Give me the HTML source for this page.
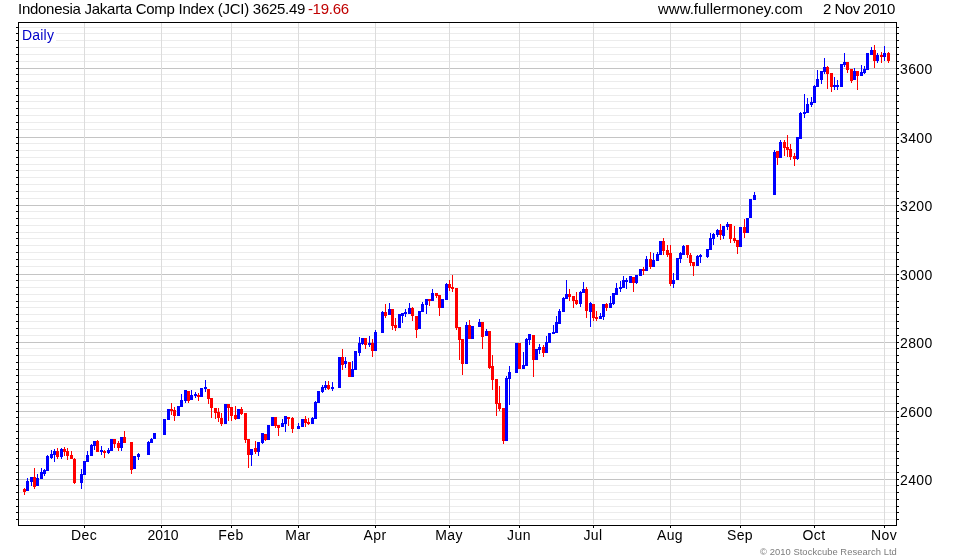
<!DOCTYPE html>
<html lang="en"><head><meta charset="utf-8"><title>Indonesia Jakarta Comp Index (JCI)</title>
<style>
html,body{margin:0;padding:0;background:#fff;}
body{width:980px;height:560px;overflow:hidden;position:relative;font-family:"Liberation Sans",Arial,sans-serif;color:#000;}
svg{position:absolute;left:0;top:0;display:block;}
.t{position:absolute;white-space:nowrap;line-height:1;will-change:transform;}
.f15{font-size:15px;}
.f14{font-size:14px;}
.ml{transform:translateX(-50%);}
</style></head><body>
<svg width="980" height="560" viewBox="0 0 980 560" shape-rendering="crispEdges">
<rect x="0" y="0" width="980" height="560" fill="#ffffff"/>
<rect x="19" y="27" width="877" height="1" fill="#ececec"/>
<rect x="19" y="33" width="877" height="1" fill="#ececec"/>
<rect x="19" y="40" width="877" height="1" fill="#ececec"/>
<rect x="19" y="47" width="877" height="1" fill="#ececec"/>
<rect x="19" y="54" width="877" height="1" fill="#ececec"/>
<rect x="19" y="61" width="877" height="1" fill="#ececec"/>
<rect x="19" y="74" width="877" height="1" fill="#ececec"/>
<rect x="19" y="81" width="877" height="1" fill="#ececec"/>
<rect x="19" y="88" width="877" height="1" fill="#ececec"/>
<rect x="19" y="95" width="877" height="1" fill="#ececec"/>
<rect x="19" y="101" width="877" height="1" fill="#ececec"/>
<rect x="19" y="108" width="877" height="1" fill="#ececec"/>
<rect x="19" y="115" width="877" height="1" fill="#ececec"/>
<rect x="19" y="122" width="877" height="1" fill="#ececec"/>
<rect x="19" y="129" width="877" height="1" fill="#ececec"/>
<rect x="19" y="143" width="877" height="1" fill="#ececec"/>
<rect x="19" y="150" width="877" height="1" fill="#ececec"/>
<rect x="19" y="157" width="877" height="1" fill="#ececec"/>
<rect x="19" y="164" width="877" height="1" fill="#ececec"/>
<rect x="19" y="170" width="877" height="1" fill="#ececec"/>
<rect x="19" y="177" width="877" height="1" fill="#ececec"/>
<rect x="19" y="184" width="877" height="1" fill="#ececec"/>
<rect x="19" y="191" width="877" height="1" fill="#ececec"/>
<rect x="19" y="198" width="877" height="1" fill="#ececec"/>
<rect x="19" y="211" width="877" height="1" fill="#ececec"/>
<rect x="19" y="218" width="877" height="1" fill="#ececec"/>
<rect x="19" y="225" width="877" height="1" fill="#ececec"/>
<rect x="19" y="232" width="877" height="1" fill="#ececec"/>
<rect x="19" y="238" width="877" height="1" fill="#ececec"/>
<rect x="19" y="245" width="877" height="1" fill="#ececec"/>
<rect x="19" y="252" width="877" height="1" fill="#ececec"/>
<rect x="19" y="259" width="877" height="1" fill="#ececec"/>
<rect x="19" y="266" width="877" height="1" fill="#ececec"/>
<rect x="19" y="280" width="877" height="1" fill="#ececec"/>
<rect x="19" y="287" width="877" height="1" fill="#ececec"/>
<rect x="19" y="294" width="877" height="1" fill="#ececec"/>
<rect x="19" y="301" width="877" height="1" fill="#ececec"/>
<rect x="19" y="307" width="877" height="1" fill="#ececec"/>
<rect x="19" y="314" width="877" height="1" fill="#ececec"/>
<rect x="19" y="321" width="877" height="1" fill="#ececec"/>
<rect x="19" y="328" width="877" height="1" fill="#ececec"/>
<rect x="19" y="335" width="877" height="1" fill="#ececec"/>
<rect x="19" y="348" width="877" height="1" fill="#ececec"/>
<rect x="19" y="355" width="877" height="1" fill="#ececec"/>
<rect x="19" y="362" width="877" height="1" fill="#ececec"/>
<rect x="19" y="369" width="877" height="1" fill="#ececec"/>
<rect x="19" y="375" width="877" height="1" fill="#ececec"/>
<rect x="19" y="382" width="877" height="1" fill="#ececec"/>
<rect x="19" y="389" width="877" height="1" fill="#ececec"/>
<rect x="19" y="396" width="877" height="1" fill="#ececec"/>
<rect x="19" y="403" width="877" height="1" fill="#ececec"/>
<rect x="19" y="417" width="877" height="1" fill="#ececec"/>
<rect x="19" y="424" width="877" height="1" fill="#ececec"/>
<rect x="19" y="431" width="877" height="1" fill="#ececec"/>
<rect x="19" y="438" width="877" height="1" fill="#ececec"/>
<rect x="19" y="444" width="877" height="1" fill="#ececec"/>
<rect x="19" y="451" width="877" height="1" fill="#ececec"/>
<rect x="19" y="458" width="877" height="1" fill="#ececec"/>
<rect x="19" y="465" width="877" height="1" fill="#ececec"/>
<rect x="19" y="472" width="877" height="1" fill="#ececec"/>
<rect x="19" y="485" width="877" height="1" fill="#ececec"/>
<rect x="19" y="492" width="877" height="1" fill="#ececec"/>
<rect x="19" y="499" width="877" height="1" fill="#ececec"/>
<rect x="19" y="506" width="877" height="1" fill="#ececec"/>
<rect x="19" y="512" width="877" height="1" fill="#ececec"/>
<rect x="19" y="519" width="877" height="1" fill="#ececec"/>
<rect x="19" y="68" width="877" height="1" fill="#c4c4c4"/>
<rect x="19" y="137" width="877" height="1" fill="#c4c4c4"/>
<rect x="19" y="205" width="877" height="1" fill="#c4c4c4"/>
<rect x="19" y="274" width="877" height="1" fill="#c4c4c4"/>
<rect x="19" y="342" width="877" height="1" fill="#c4c4c4"/>
<rect x="19" y="411" width="877" height="1" fill="#c4c4c4"/>
<rect x="19" y="479" width="877" height="1" fill="#c4c4c4"/>
<rect x="84" y="23" width="1" height="501" fill="#dcdcdc"/>
<rect x="161" y="23" width="1" height="501" fill="#dcdcdc"/>
<rect x="231" y="23" width="1" height="501" fill="#dcdcdc"/>
<rect x="298" y="23" width="1" height="501" fill="#dcdcdc"/>
<rect x="375" y="23" width="1" height="501" fill="#dcdcdc"/>
<rect x="449" y="23" width="1" height="501" fill="#dcdcdc"/>
<rect x="519" y="23" width="1" height="501" fill="#dcdcdc"/>
<rect x="593" y="23" width="1" height="501" fill="#dcdcdc"/>
<rect x="670" y="23" width="1" height="501" fill="#dcdcdc"/>
<rect x="740" y="23" width="1" height="501" fill="#dcdcdc"/>
<rect x="814" y="23" width="1" height="501" fill="#dcdcdc"/>
<rect x="884" y="23" width="1" height="501" fill="#dcdcdc"/>
<rect x="24" y="488" width="1" height="7" fill="#ff0000"/>
<rect x="23" y="489" width="3" height="3" fill="#ff0000"/>
<rect x="27" y="478" width="1" height="13" fill="#0000ff"/>
<rect x="26" y="481" width="3" height="10" fill="#0000ff"/>
<rect x="31" y="477" width="1" height="9" fill="#0000ff"/>
<rect x="30" y="477" width="3" height="5" fill="#0000ff"/>
<rect x="34" y="468" width="1" height="21" fill="#ff0000"/>
<rect x="33" y="477" width="3" height="10" fill="#ff0000"/>
<rect x="37" y="474" width="1" height="12" fill="#0000ff"/>
<rect x="36" y="478" width="3" height="8" fill="#0000ff"/>
<rect x="41" y="468" width="1" height="11" fill="#0000ff"/>
<rect x="40" y="472" width="3" height="7" fill="#0000ff"/>
<rect x="44" y="469" width="1" height="7" fill="#0000ff"/>
<rect x="43" y="470" width="3" height="4" fill="#0000ff"/>
<rect x="47" y="455" width="1" height="16" fill="#0000ff"/>
<rect x="46" y="456" width="3" height="15" fill="#0000ff"/>
<rect x="51" y="450" width="1" height="9" fill="#0000ff"/>
<rect x="50" y="454" width="3" height="4" fill="#0000ff"/>
<rect x="54" y="449" width="1" height="13" fill="#0000ff"/>
<rect x="53" y="451" width="3" height="4" fill="#0000ff"/>
<rect x="57" y="448" width="1" height="11" fill="#ff0000"/>
<rect x="56" y="451" width="3" height="6" fill="#ff0000"/>
<rect x="61" y="448" width="1" height="11" fill="#0000ff"/>
<rect x="60" y="449" width="3" height="8" fill="#0000ff"/>
<rect x="64" y="447" width="1" height="9" fill="#ff0000"/>
<rect x="63" y="449" width="3" height="3" fill="#ff0000"/>
<rect x="67" y="448" width="1" height="12" fill="#ff0000"/>
<rect x="66" y="451" width="3" height="5" fill="#ff0000"/>
<rect x="71" y="451" width="1" height="8" fill="#ff0000"/>
<rect x="70" y="455" width="3" height="4" fill="#ff0000"/>
<rect x="74" y="458" width="1" height="26" fill="#ff0000"/>
<rect x="73" y="459" width="3" height="24" fill="#ff0000"/>
<rect x="81" y="469" width="1" height="20" fill="#0000ff"/>
<rect x="80" y="474" width="3" height="9" fill="#0000ff"/>
<rect x="84" y="461" width="1" height="14" fill="#0000ff"/>
<rect x="83" y="461" width="3" height="14" fill="#0000ff"/>
<rect x="87" y="451" width="1" height="11" fill="#0000ff"/>
<rect x="86" y="455" width="3" height="7" fill="#0000ff"/>
<rect x="91" y="444" width="1" height="12" fill="#0000ff"/>
<rect x="90" y="445" width="3" height="11" fill="#0000ff"/>
<rect x="94" y="441" width="1" height="9" fill="#0000ff"/>
<rect x="93" y="441" width="3" height="5" fill="#0000ff"/>
<rect x="97" y="440" width="1" height="12" fill="#ff0000"/>
<rect x="96" y="441" width="3" height="11" fill="#ff0000"/>
<rect x="101" y="446" width="1" height="9" fill="#0000ff"/>
<rect x="100" y="450" width="3" height="2" fill="#0000ff"/>
<rect x="104" y="450" width="1" height="8" fill="#ff0000"/>
<rect x="103" y="451" width="3" height="2" fill="#ff0000"/>
<rect x="108" y="448" width="1" height="6" fill="#0000ff"/>
<rect x="107" y="450" width="3" height="3" fill="#0000ff"/>
<rect x="111" y="439" width="1" height="12" fill="#0000ff"/>
<rect x="110" y="439" width="3" height="12" fill="#0000ff"/>
<rect x="114" y="439" width="1" height="9" fill="#ff0000"/>
<rect x="113" y="439" width="3" height="5" fill="#ff0000"/>
<rect x="118" y="441" width="1" height="10" fill="#ff0000"/>
<rect x="117" y="443" width="3" height="5" fill="#ff0000"/>
<rect x="121" y="437" width="1" height="14" fill="#0000ff"/>
<rect x="120" y="437" width="3" height="11" fill="#0000ff"/>
<rect x="124" y="431" width="1" height="12" fill="#ff0000"/>
<rect x="123" y="437" width="3" height="6" fill="#ff0000"/>
<rect x="131" y="442" width="1" height="32" fill="#ff0000"/>
<rect x="130" y="442" width="3" height="28" fill="#ff0000"/>
<rect x="134" y="456" width="1" height="13" fill="#0000ff"/>
<rect x="133" y="456" width="3" height="13" fill="#0000ff"/>
<rect x="138" y="453" width="1" height="7" fill="#0000ff"/>
<rect x="137" y="454" width="3" height="3" fill="#0000ff"/>
<rect x="148" y="441" width="1" height="14" fill="#0000ff"/>
<rect x="147" y="442" width="3" height="13" fill="#0000ff"/>
<rect x="151" y="438" width="1" height="5" fill="#0000ff"/>
<rect x="150" y="439" width="3" height="4" fill="#0000ff"/>
<rect x="154" y="433" width="1" height="6" fill="#0000ff"/>
<rect x="153" y="433" width="3" height="6" fill="#0000ff"/>
<rect x="164" y="419" width="1" height="16" fill="#0000ff"/>
<rect x="163" y="419" width="3" height="16" fill="#0000ff"/>
<rect x="168" y="409" width="1" height="11" fill="#0000ff"/>
<rect x="167" y="409" width="3" height="11" fill="#0000ff"/>
<rect x="171" y="403" width="1" height="12" fill="#ff0000"/>
<rect x="170" y="409" width="3" height="2" fill="#ff0000"/>
<rect x="174" y="407" width="1" height="14" fill="#ff0000"/>
<rect x="173" y="410" width="3" height="6" fill="#ff0000"/>
<rect x="178" y="406" width="1" height="10" fill="#0000ff"/>
<rect x="177" y="406" width="3" height="10" fill="#0000ff"/>
<rect x="181" y="394" width="1" height="13" fill="#0000ff"/>
<rect x="180" y="400" width="3" height="7" fill="#0000ff"/>
<rect x="185" y="390" width="1" height="13" fill="#0000ff"/>
<rect x="184" y="390" width="3" height="11" fill="#0000ff"/>
<rect x="188" y="391" width="1" height="12" fill="#ff0000"/>
<rect x="187" y="391" width="3" height="10" fill="#ff0000"/>
<rect x="191" y="390" width="1" height="10" fill="#0000ff"/>
<rect x="190" y="395" width="3" height="5" fill="#0000ff"/>
<rect x="195" y="392" width="1" height="6" fill="#0000ff"/>
<rect x="194" y="394" width="3" height="2" fill="#0000ff"/>
<rect x="198" y="393" width="1" height="8" fill="#ff0000"/>
<rect x="197" y="395" width="3" height="2" fill="#ff0000"/>
<rect x="201" y="388" width="1" height="9" fill="#0000ff"/>
<rect x="200" y="388" width="3" height="9" fill="#0000ff"/>
<rect x="205" y="380" width="1" height="12" fill="#0000ff"/>
<rect x="204" y="387" width="3" height="2" fill="#0000ff"/>
<rect x="208" y="389" width="1" height="15" fill="#ff0000"/>
<rect x="207" y="389" width="3" height="10" fill="#ff0000"/>
<rect x="211" y="398" width="1" height="20" fill="#ff0000"/>
<rect x="210" y="398" width="3" height="10" fill="#ff0000"/>
<rect x="215" y="408" width="1" height="11" fill="#ff0000"/>
<rect x="214" y="408" width="3" height="5" fill="#ff0000"/>
<rect x="218" y="408" width="1" height="14" fill="#ff0000"/>
<rect x="217" y="412" width="3" height="6" fill="#ff0000"/>
<rect x="221" y="413" width="1" height="13" fill="#ff0000"/>
<rect x="220" y="418" width="3" height="6" fill="#ff0000"/>
<rect x="225" y="404" width="1" height="20" fill="#0000ff"/>
<rect x="224" y="404" width="3" height="20" fill="#0000ff"/>
<rect x="228" y="404" width="1" height="17" fill="#ff0000"/>
<rect x="227" y="404" width="3" height="4" fill="#ff0000"/>
<rect x="231" y="407" width="1" height="14" fill="#ff0000"/>
<rect x="230" y="407" width="3" height="9" fill="#ff0000"/>
<rect x="235" y="406" width="1" height="14" fill="#ff0000"/>
<rect x="234" y="415" width="3" height="4" fill="#ff0000"/>
<rect x="238" y="409" width="1" height="10" fill="#0000ff"/>
<rect x="237" y="409" width="3" height="10" fill="#0000ff"/>
<rect x="241" y="407" width="1" height="8" fill="#ff0000"/>
<rect x="240" y="409" width="3" height="5" fill="#ff0000"/>
<rect x="245" y="413" width="1" height="30" fill="#ff0000"/>
<rect x="244" y="413" width="3" height="27" fill="#ff0000"/>
<rect x="248" y="439" width="1" height="29" fill="#ff0000"/>
<rect x="247" y="439" width="3" height="16" fill="#ff0000"/>
<rect x="251" y="449" width="1" height="17" fill="#0000ff"/>
<rect x="250" y="449" width="3" height="6" fill="#0000ff"/>
<rect x="255" y="441" width="1" height="13" fill="#ff0000"/>
<rect x="254" y="448" width="3" height="4" fill="#ff0000"/>
<rect x="258" y="442" width="1" height="14" fill="#0000ff"/>
<rect x="257" y="442" width="3" height="10" fill="#0000ff"/>
<rect x="262" y="433" width="1" height="11" fill="#0000ff"/>
<rect x="261" y="433" width="3" height="10" fill="#0000ff"/>
<rect x="265" y="434" width="1" height="7" fill="#ff0000"/>
<rect x="264" y="434" width="3" height="6" fill="#ff0000"/>
<rect x="268" y="425" width="1" height="15" fill="#0000ff"/>
<rect x="267" y="425" width="3" height="15" fill="#0000ff"/>
<rect x="272" y="417" width="1" height="9" fill="#0000ff"/>
<rect x="271" y="417" width="3" height="9" fill="#0000ff"/>
<rect x="275" y="417" width="1" height="11" fill="#ff0000"/>
<rect x="274" y="417" width="3" height="9" fill="#ff0000"/>
<rect x="278" y="425" width="1" height="11" fill="#ff0000"/>
<rect x="277" y="425" width="3" height="3" fill="#ff0000"/>
<rect x="282" y="419" width="1" height="8" fill="#0000ff"/>
<rect x="281" y="423" width="3" height="4" fill="#0000ff"/>
<rect x="285" y="416" width="1" height="16" fill="#0000ff"/>
<rect x="284" y="416" width="3" height="8" fill="#0000ff"/>
<rect x="288" y="417" width="1" height="9" fill="#ff0000"/>
<rect x="287" y="417" width="3" height="2" fill="#ff0000"/>
<rect x="292" y="417" width="1" height="16" fill="#ff0000"/>
<rect x="291" y="418" width="3" height="11" fill="#ff0000"/>
<rect x="298" y="423" width="1" height="6" fill="#0000ff"/>
<rect x="297" y="426" width="3" height="3" fill="#0000ff"/>
<rect x="302" y="419" width="1" height="8" fill="#0000ff"/>
<rect x="301" y="419" width="3" height="8" fill="#0000ff"/>
<rect x="305" y="416" width="1" height="11" fill="#ff0000"/>
<rect x="304" y="419" width="3" height="4" fill="#ff0000"/>
<rect x="308" y="418" width="1" height="7" fill="#ff0000"/>
<rect x="307" y="422" width="3" height="2" fill="#ff0000"/>
<rect x="312" y="417" width="1" height="7" fill="#0000ff"/>
<rect x="311" y="418" width="3" height="6" fill="#0000ff"/>
<rect x="315" y="401" width="1" height="18" fill="#0000ff"/>
<rect x="314" y="402" width="3" height="17" fill="#0000ff"/>
<rect x="318" y="391" width="1" height="12" fill="#0000ff"/>
<rect x="317" y="391" width="3" height="12" fill="#0000ff"/>
<rect x="322" y="385" width="1" height="8" fill="#0000ff"/>
<rect x="321" y="387" width="3" height="5" fill="#0000ff"/>
<rect x="325" y="381" width="1" height="9" fill="#0000ff"/>
<rect x="324" y="385" width="3" height="3" fill="#0000ff"/>
<rect x="328" y="381" width="1" height="9" fill="#ff0000"/>
<rect x="327" y="385" width="3" height="4" fill="#ff0000"/>
<rect x="332" y="382" width="1" height="9" fill="#0000ff"/>
<rect x="331" y="387" width="3" height="2" fill="#0000ff"/>
<rect x="339" y="357" width="1" height="31" fill="#0000ff"/>
<rect x="338" y="357" width="3" height="31" fill="#0000ff"/>
<rect x="342" y="349" width="1" height="21" fill="#ff0000"/>
<rect x="341" y="357" width="3" height="8" fill="#ff0000"/>
<rect x="345" y="357" width="1" height="11" fill="#0000ff"/>
<rect x="344" y="361" width="3" height="3" fill="#0000ff"/>
<rect x="349" y="362" width="1" height="15" fill="#ff0000"/>
<rect x="348" y="362" width="3" height="15" fill="#ff0000"/>
<rect x="352" y="361" width="1" height="16" fill="#0000ff"/>
<rect x="351" y="369" width="3" height="8" fill="#0000ff"/>
<rect x="355" y="351" width="1" height="19" fill="#0000ff"/>
<rect x="354" y="351" width="3" height="19" fill="#0000ff"/>
<rect x="359" y="337" width="1" height="19" fill="#0000ff"/>
<rect x="358" y="343" width="3" height="10" fill="#0000ff"/>
<rect x="362" y="338" width="1" height="7" fill="#0000ff"/>
<rect x="361" y="338" width="3" height="6" fill="#0000ff"/>
<rect x="365" y="338" width="1" height="11" fill="#ff0000"/>
<rect x="364" y="338" width="3" height="7" fill="#ff0000"/>
<rect x="369" y="336" width="1" height="11" fill="#0000ff"/>
<rect x="368" y="343" width="3" height="2" fill="#0000ff"/>
<rect x="372" y="339" width="1" height="18" fill="#ff0000"/>
<rect x="371" y="343" width="3" height="8" fill="#ff0000"/>
<rect x="375" y="330" width="1" height="21" fill="#0000ff"/>
<rect x="374" y="332" width="3" height="19" fill="#0000ff"/>
<rect x="382" y="311" width="1" height="22" fill="#0000ff"/>
<rect x="381" y="312" width="3" height="21" fill="#0000ff"/>
<rect x="385" y="304" width="1" height="14" fill="#ff0000"/>
<rect x="384" y="312" width="3" height="4" fill="#ff0000"/>
<rect x="389" y="303" width="1" height="12" fill="#0000ff"/>
<rect x="388" y="309" width="3" height="6" fill="#0000ff"/>
<rect x="392" y="309" width="1" height="21" fill="#ff0000"/>
<rect x="391" y="309" width="3" height="17" fill="#ff0000"/>
<rect x="395" y="318" width="1" height="13" fill="#ff0000"/>
<rect x="394" y="325" width="3" height="3" fill="#ff0000"/>
<rect x="399" y="314" width="1" height="14" fill="#0000ff"/>
<rect x="398" y="314" width="3" height="14" fill="#0000ff"/>
<rect x="402" y="313" width="1" height="10" fill="#0000ff"/>
<rect x="401" y="313" width="3" height="3" fill="#0000ff"/>
<rect x="405" y="309" width="1" height="8" fill="#0000ff"/>
<rect x="404" y="312" width="3" height="2" fill="#0000ff"/>
<rect x="409" y="303" width="1" height="11" fill="#0000ff"/>
<rect x="408" y="308" width="3" height="6" fill="#0000ff"/>
<rect x="412" y="307" width="1" height="14" fill="#ff0000"/>
<rect x="411" y="308" width="3" height="8" fill="#ff0000"/>
<rect x="416" y="316" width="1" height="22" fill="#ff0000"/>
<rect x="415" y="316" width="3" height="14" fill="#ff0000"/>
<rect x="419" y="311" width="1" height="18" fill="#0000ff"/>
<rect x="418" y="311" width="3" height="18" fill="#0000ff"/>
<rect x="422" y="302" width="1" height="10" fill="#0000ff"/>
<rect x="421" y="304" width="3" height="8" fill="#0000ff"/>
<rect x="426" y="299" width="1" height="15" fill="#0000ff"/>
<rect x="425" y="299" width="3" height="6" fill="#0000ff"/>
<rect x="429" y="299" width="1" height="7" fill="#ff0000"/>
<rect x="428" y="299" width="3" height="2" fill="#ff0000"/>
<rect x="432" y="289" width="1" height="12" fill="#0000ff"/>
<rect x="431" y="293" width="3" height="8" fill="#0000ff"/>
<rect x="436" y="293" width="1" height="5" fill="#ff0000"/>
<rect x="435" y="293" width="3" height="3" fill="#ff0000"/>
<rect x="439" y="295" width="1" height="21" fill="#ff0000"/>
<rect x="438" y="295" width="3" height="13" fill="#ff0000"/>
<rect x="442" y="299" width="1" height="9" fill="#0000ff"/>
<rect x="441" y="299" width="3" height="9" fill="#0000ff"/>
<rect x="446" y="283" width="1" height="17" fill="#0000ff"/>
<rect x="445" y="284" width="3" height="16" fill="#0000ff"/>
<rect x="449" y="280" width="1" height="11" fill="#ff0000"/>
<rect x="448" y="284" width="3" height="4" fill="#ff0000"/>
<rect x="452" y="275" width="1" height="17" fill="#ff0000"/>
<rect x="451" y="287" width="3" height="2" fill="#ff0000"/>
<rect x="456" y="288" width="1" height="42" fill="#ff0000"/>
<rect x="455" y="288" width="3" height="40" fill="#ff0000"/>
<rect x="459" y="327" width="1" height="33" fill="#ff0000"/>
<rect x="458" y="327" width="3" height="13" fill="#ff0000"/>
<rect x="462" y="339" width="1" height="36" fill="#ff0000"/>
<rect x="461" y="339" width="3" height="25" fill="#ff0000"/>
<rect x="466" y="322" width="1" height="42" fill="#0000ff"/>
<rect x="465" y="325" width="3" height="39" fill="#0000ff"/>
<rect x="469" y="320" width="1" height="19" fill="#ff0000"/>
<rect x="468" y="325" width="3" height="14" fill="#ff0000"/>
<rect x="472" y="326" width="1" height="13" fill="#0000ff"/>
<rect x="471" y="326" width="3" height="13" fill="#0000ff"/>
<rect x="479" y="319" width="1" height="8" fill="#0000ff"/>
<rect x="478" y="322" width="3" height="5" fill="#0000ff"/>
<rect x="482" y="322" width="1" height="27" fill="#ff0000"/>
<rect x="481" y="322" width="3" height="15" fill="#ff0000"/>
<rect x="486" y="329" width="1" height="7" fill="#0000ff"/>
<rect x="485" y="331" width="3" height="5" fill="#0000ff"/>
<rect x="489" y="331" width="1" height="38" fill="#ff0000"/>
<rect x="488" y="331" width="3" height="37" fill="#ff0000"/>
<rect x="492" y="355" width="1" height="35" fill="#ff0000"/>
<rect x="491" y="366" width="3" height="14" fill="#ff0000"/>
<rect x="496" y="379" width="1" height="37" fill="#ff0000"/>
<rect x="495" y="379" width="3" height="25" fill="#ff0000"/>
<rect x="499" y="386" width="1" height="25" fill="#ff0000"/>
<rect x="498" y="403" width="3" height="6" fill="#ff0000"/>
<rect x="503" y="408" width="1" height="36" fill="#ff0000"/>
<rect x="502" y="408" width="3" height="33" fill="#ff0000"/>
<rect x="506" y="376" width="1" height="65" fill="#0000ff"/>
<rect x="505" y="378" width="3" height="63" fill="#0000ff"/>
<rect x="509" y="366" width="1" height="39" fill="#0000ff"/>
<rect x="508" y="372" width="3" height="7" fill="#0000ff"/>
<rect x="516" y="343" width="1" height="30" fill="#0000ff"/>
<rect x="515" y="343" width="3" height="30" fill="#0000ff"/>
<rect x="519" y="343" width="1" height="26" fill="#ff0000"/>
<rect x="518" y="343" width="3" height="26" fill="#ff0000"/>
<rect x="523" y="352" width="1" height="17" fill="#0000ff"/>
<rect x="522" y="365" width="3" height="4" fill="#0000ff"/>
<rect x="526" y="338" width="1" height="28" fill="#0000ff"/>
<rect x="525" y="339" width="3" height="27" fill="#0000ff"/>
<rect x="529" y="334" width="1" height="11" fill="#0000ff"/>
<rect x="528" y="334" width="3" height="6" fill="#0000ff"/>
<rect x="533" y="335" width="1" height="42" fill="#ff0000"/>
<rect x="532" y="335" width="3" height="25" fill="#ff0000"/>
<rect x="536" y="349" width="1" height="11" fill="#0000ff"/>
<rect x="535" y="349" width="3" height="11" fill="#0000ff"/>
<rect x="539" y="344" width="1" height="10" fill="#0000ff"/>
<rect x="538" y="347" width="3" height="3" fill="#0000ff"/>
<rect x="543" y="345" width="1" height="12" fill="#ff0000"/>
<rect x="542" y="347" width="3" height="6" fill="#ff0000"/>
<rect x="546" y="336" width="1" height="17" fill="#0000ff"/>
<rect x="545" y="342" width="3" height="11" fill="#0000ff"/>
<rect x="549" y="333" width="1" height="10" fill="#0000ff"/>
<rect x="548" y="333" width="3" height="10" fill="#0000ff"/>
<rect x="553" y="325" width="1" height="9" fill="#0000ff"/>
<rect x="552" y="332" width="3" height="2" fill="#0000ff"/>
<rect x="556" y="316" width="1" height="17" fill="#0000ff"/>
<rect x="555" y="322" width="3" height="11" fill="#0000ff"/>
<rect x="559" y="309" width="1" height="15" fill="#0000ff"/>
<rect x="558" y="311" width="3" height="13" fill="#0000ff"/>
<rect x="563" y="297" width="1" height="15" fill="#0000ff"/>
<rect x="562" y="298" width="3" height="14" fill="#0000ff"/>
<rect x="566" y="280" width="1" height="19" fill="#0000ff"/>
<rect x="565" y="294" width="3" height="5" fill="#0000ff"/>
<rect x="569" y="289" width="1" height="12" fill="#ff0000"/>
<rect x="568" y="294" width="3" height="3" fill="#ff0000"/>
<rect x="573" y="296" width="1" height="12" fill="#ff0000"/>
<rect x="572" y="296" width="3" height="5" fill="#ff0000"/>
<rect x="576" y="292" width="1" height="13" fill="#ff0000"/>
<rect x="575" y="300" width="3" height="4" fill="#ff0000"/>
<rect x="580" y="291" width="1" height="16" fill="#0000ff"/>
<rect x="579" y="292" width="3" height="12" fill="#0000ff"/>
<rect x="583" y="282" width="1" height="11" fill="#0000ff"/>
<rect x="582" y="289" width="3" height="4" fill="#0000ff"/>
<rect x="586" y="287" width="1" height="31" fill="#ff0000"/>
<rect x="585" y="289" width="3" height="22" fill="#ff0000"/>
<rect x="590" y="302" width="1" height="25" fill="#0000ff"/>
<rect x="589" y="303" width="3" height="9" fill="#0000ff"/>
<rect x="593" y="304" width="1" height="17" fill="#ff0000"/>
<rect x="592" y="304" width="3" height="14" fill="#ff0000"/>
<rect x="596" y="311" width="1" height="10" fill="#ff0000"/>
<rect x="595" y="317" width="3" height="2" fill="#ff0000"/>
<rect x="600" y="313" width="1" height="6" fill="#0000ff"/>
<rect x="599" y="316" width="3" height="3" fill="#0000ff"/>
<rect x="603" y="304" width="1" height="16" fill="#0000ff"/>
<rect x="602" y="304" width="3" height="13" fill="#0000ff"/>
<rect x="606" y="303" width="1" height="8" fill="#ff0000"/>
<rect x="605" y="304" width="3" height="4" fill="#ff0000"/>
<rect x="610" y="296" width="1" height="12" fill="#0000ff"/>
<rect x="609" y="303" width="3" height="5" fill="#0000ff"/>
<rect x="613" y="293" width="1" height="12" fill="#0000ff"/>
<rect x="612" y="293" width="3" height="11" fill="#0000ff"/>
<rect x="616" y="283" width="1" height="12" fill="#0000ff"/>
<rect x="615" y="288" width="3" height="7" fill="#0000ff"/>
<rect x="620" y="281" width="1" height="11" fill="#0000ff"/>
<rect x="619" y="287" width="3" height="2" fill="#0000ff"/>
<rect x="623" y="276" width="1" height="12" fill="#0000ff"/>
<rect x="622" y="280" width="3" height="8" fill="#0000ff"/>
<rect x="626" y="278" width="1" height="11" fill="#0000ff"/>
<rect x="625" y="280" width="3" height="2" fill="#0000ff"/>
<rect x="630" y="276" width="1" height="7" fill="#0000ff"/>
<rect x="629" y="276" width="3" height="7" fill="#0000ff"/>
<rect x="633" y="277" width="1" height="15" fill="#ff0000"/>
<rect x="632" y="277" width="3" height="6" fill="#ff0000"/>
<rect x="636" y="275" width="1" height="9" fill="#0000ff"/>
<rect x="635" y="275" width="3" height="8" fill="#0000ff"/>
<rect x="640" y="269" width="1" height="7" fill="#0000ff"/>
<rect x="639" y="269" width="3" height="7" fill="#0000ff"/>
<rect x="643" y="267" width="1" height="8" fill="#ff0000"/>
<rect x="642" y="269" width="3" height="2" fill="#ff0000"/>
<rect x="646" y="256" width="1" height="15" fill="#0000ff"/>
<rect x="645" y="259" width="3" height="12" fill="#0000ff"/>
<rect x="650" y="252" width="1" height="17" fill="#ff0000"/>
<rect x="649" y="259" width="3" height="8" fill="#ff0000"/>
<rect x="653" y="253" width="1" height="14" fill="#0000ff"/>
<rect x="652" y="260" width="3" height="7" fill="#0000ff"/>
<rect x="657" y="252" width="1" height="9" fill="#0000ff"/>
<rect x="656" y="254" width="3" height="7" fill="#0000ff"/>
<rect x="660" y="241" width="1" height="14" fill="#0000ff"/>
<rect x="659" y="241" width="3" height="14" fill="#0000ff"/>
<rect x="663" y="238" width="1" height="17" fill="#ff0000"/>
<rect x="662" y="241" width="3" height="10" fill="#ff0000"/>
<rect x="667" y="245" width="1" height="12" fill="#ff0000"/>
<rect x="666" y="250" width="3" height="5" fill="#ff0000"/>
<rect x="670" y="245" width="1" height="41" fill="#ff0000"/>
<rect x="669" y="253" width="3" height="31" fill="#ff0000"/>
<rect x="673" y="273" width="1" height="15" fill="#0000ff"/>
<rect x="672" y="280" width="3" height="4" fill="#0000ff"/>
<rect x="677" y="258" width="1" height="22" fill="#0000ff"/>
<rect x="676" y="258" width="3" height="22" fill="#0000ff"/>
<rect x="680" y="252" width="1" height="11" fill="#0000ff"/>
<rect x="679" y="253" width="3" height="6" fill="#0000ff"/>
<rect x="683" y="245" width="1" height="10" fill="#0000ff"/>
<rect x="682" y="246" width="3" height="9" fill="#0000ff"/>
<rect x="687" y="245" width="1" height="13" fill="#ff0000"/>
<rect x="686" y="245" width="3" height="10" fill="#ff0000"/>
<rect x="690" y="253" width="1" height="13" fill="#ff0000"/>
<rect x="689" y="255" width="3" height="8" fill="#ff0000"/>
<rect x="693" y="262" width="1" height="14" fill="#ff0000"/>
<rect x="692" y="262" width="3" height="4" fill="#ff0000"/>
<rect x="697" y="255" width="1" height="11" fill="#0000ff"/>
<rect x="696" y="256" width="3" height="10" fill="#0000ff"/>
<rect x="700" y="254" width="1" height="9" fill="#0000ff"/>
<rect x="699" y="255" width="3" height="2" fill="#0000ff"/>
<rect x="707" y="249" width="1" height="9" fill="#0000ff"/>
<rect x="706" y="249" width="3" height="8" fill="#0000ff"/>
<rect x="710" y="233" width="1" height="17" fill="#0000ff"/>
<rect x="709" y="238" width="3" height="12" fill="#0000ff"/>
<rect x="713" y="233" width="1" height="12" fill="#0000ff"/>
<rect x="712" y="234" width="3" height="5" fill="#0000ff"/>
<rect x="717" y="229" width="1" height="8" fill="#0000ff"/>
<rect x="716" y="230" width="3" height="5" fill="#0000ff"/>
<rect x="720" y="224" width="1" height="16" fill="#ff0000"/>
<rect x="719" y="230" width="3" height="5" fill="#ff0000"/>
<rect x="723" y="226" width="1" height="13" fill="#0000ff"/>
<rect x="722" y="226" width="3" height="10" fill="#0000ff"/>
<rect x="727" y="222" width="1" height="8" fill="#0000ff"/>
<rect x="726" y="224" width="3" height="3" fill="#0000ff"/>
<rect x="730" y="224" width="1" height="19" fill="#ff0000"/>
<rect x="729" y="224" width="3" height="15" fill="#ff0000"/>
<rect x="734" y="226" width="1" height="17" fill="#ff0000"/>
<rect x="733" y="238" width="3" height="3" fill="#ff0000"/>
<rect x="737" y="240" width="1" height="14" fill="#ff0000"/>
<rect x="736" y="240" width="3" height="7" fill="#ff0000"/>
<rect x="740" y="227" width="1" height="20" fill="#0000ff"/>
<rect x="739" y="227" width="3" height="20" fill="#0000ff"/>
<rect x="744" y="219" width="1" height="19" fill="#ff0000"/>
<rect x="743" y="227" width="3" height="6" fill="#ff0000"/>
<rect x="747" y="218" width="1" height="15" fill="#0000ff"/>
<rect x="746" y="218" width="3" height="15" fill="#0000ff"/>
<rect x="750" y="199" width="1" height="19" fill="#0000ff"/>
<rect x="749" y="199" width="3" height="19" fill="#0000ff"/>
<rect x="754" y="192" width="1" height="8" fill="#0000ff"/>
<rect x="753" y="195" width="3" height="5" fill="#0000ff"/>
<rect x="774" y="150" width="1" height="45" fill="#0000ff"/>
<rect x="773" y="152" width="3" height="43" fill="#0000ff"/>
<rect x="777" y="151" width="1" height="14" fill="#ff0000"/>
<rect x="776" y="151" width="3" height="7" fill="#ff0000"/>
<rect x="780" y="140" width="1" height="18" fill="#0000ff"/>
<rect x="779" y="142" width="3" height="16" fill="#0000ff"/>
<rect x="784" y="140" width="1" height="16" fill="#ff0000"/>
<rect x="783" y="142" width="3" height="6" fill="#ff0000"/>
<rect x="787" y="135" width="1" height="22" fill="#ff0000"/>
<rect x="786" y="147" width="3" height="3" fill="#ff0000"/>
<rect x="790" y="144" width="1" height="16" fill="#ff0000"/>
<rect x="789" y="149" width="3" height="8" fill="#ff0000"/>
<rect x="794" y="153" width="1" height="13" fill="#ff0000"/>
<rect x="793" y="156" width="3" height="3" fill="#ff0000"/>
<rect x="797" y="137" width="1" height="23" fill="#0000ff"/>
<rect x="796" y="137" width="3" height="22" fill="#0000ff"/>
<rect x="800" y="112" width="1" height="27" fill="#0000ff"/>
<rect x="799" y="113" width="3" height="26" fill="#0000ff"/>
<rect x="804" y="94" width="1" height="24" fill="#0000ff"/>
<rect x="803" y="112" width="3" height="2" fill="#0000ff"/>
<rect x="807" y="98" width="1" height="15" fill="#0000ff"/>
<rect x="806" y="104" width="3" height="9" fill="#0000ff"/>
<rect x="811" y="97" width="1" height="10" fill="#0000ff"/>
<rect x="810" y="102" width="3" height="3" fill="#0000ff"/>
<rect x="814" y="85" width="1" height="18" fill="#0000ff"/>
<rect x="813" y="86" width="3" height="17" fill="#0000ff"/>
<rect x="817" y="70" width="1" height="17" fill="#0000ff"/>
<rect x="816" y="79" width="3" height="8" fill="#0000ff"/>
<rect x="821" y="71" width="1" height="13" fill="#0000ff"/>
<rect x="820" y="71" width="3" height="9" fill="#0000ff"/>
<rect x="824" y="58" width="1" height="16" fill="#0000ff"/>
<rect x="823" y="67" width="3" height="5" fill="#0000ff"/>
<rect x="827" y="66" width="1" height="23" fill="#ff0000"/>
<rect x="826" y="67" width="3" height="7" fill="#ff0000"/>
<rect x="831" y="73" width="1" height="19" fill="#ff0000"/>
<rect x="830" y="73" width="3" height="14" fill="#ff0000"/>
<rect x="834" y="77" width="1" height="13" fill="#0000ff"/>
<rect x="833" y="85" width="3" height="2" fill="#0000ff"/>
<rect x="837" y="80" width="1" height="10" fill="#0000ff"/>
<rect x="836" y="85" width="3" height="2" fill="#0000ff"/>
<rect x="841" y="64" width="1" height="23" fill="#0000ff"/>
<rect x="840" y="64" width="3" height="23" fill="#0000ff"/>
<rect x="844" y="53" width="1" height="14" fill="#0000ff"/>
<rect x="843" y="62" width="3" height="3" fill="#0000ff"/>
<rect x="847" y="62" width="1" height="11" fill="#ff0000"/>
<rect x="846" y="62" width="3" height="8" fill="#ff0000"/>
<rect x="851" y="69" width="1" height="14" fill="#ff0000"/>
<rect x="850" y="69" width="3" height="12" fill="#ff0000"/>
<rect x="854" y="68" width="1" height="12" fill="#0000ff"/>
<rect x="853" y="71" width="3" height="9" fill="#0000ff"/>
<rect x="857" y="71" width="1" height="19" fill="#ff0000"/>
<rect x="856" y="71" width="3" height="5" fill="#ff0000"/>
<rect x="861" y="65" width="1" height="11" fill="#0000ff"/>
<rect x="860" y="72" width="3" height="4" fill="#0000ff"/>
<rect x="864" y="66" width="1" height="8" fill="#0000ff"/>
<rect x="863" y="69" width="3" height="4" fill="#0000ff"/>
<rect x="867" y="53" width="1" height="17" fill="#0000ff"/>
<rect x="866" y="53" width="3" height="17" fill="#0000ff"/>
<rect x="871" y="47" width="1" height="8" fill="#0000ff"/>
<rect x="870" y="50" width="3" height="5" fill="#0000ff"/>
<rect x="874" y="45" width="1" height="23" fill="#ff0000"/>
<rect x="873" y="50" width="3" height="11" fill="#ff0000"/>
<rect x="877" y="53" width="1" height="10" fill="#0000ff"/>
<rect x="876" y="55" width="3" height="6" fill="#0000ff"/>
<rect x="881" y="52" width="1" height="11" fill="#ff0000"/>
<rect x="880" y="55" width="3" height="2" fill="#ff0000"/>
<rect x="884" y="46" width="1" height="15" fill="#0000ff"/>
<rect x="883" y="53" width="3" height="4" fill="#0000ff"/>
<rect x="888" y="52" width="1" height="11" fill="#ff0000"/>
<rect x="887" y="53" width="3" height="8" fill="#ff0000"/>
<rect x="18" y="22" width="879" height="1" fill="#000"/>
<rect x="18" y="525" width="879" height="1" fill="#000"/>
<rect x="18" y="22" width="1" height="504" fill="#000"/>
<rect x="896" y="22" width="1" height="504" fill="#000"/>
<rect x="16" y="27" width="2" height="1" fill="#000"/>
<rect x="897" y="27" width="2" height="1" fill="#000"/>
<rect x="16" y="33" width="2" height="1" fill="#000"/>
<rect x="897" y="33" width="2" height="1" fill="#000"/>
<rect x="16" y="40" width="2" height="1" fill="#000"/>
<rect x="897" y="40" width="2" height="1" fill="#000"/>
<rect x="16" y="47" width="2" height="1" fill="#000"/>
<rect x="897" y="47" width="2" height="1" fill="#000"/>
<rect x="16" y="54" width="2" height="1" fill="#000"/>
<rect x="897" y="54" width="2" height="1" fill="#000"/>
<rect x="16" y="61" width="2" height="1" fill="#000"/>
<rect x="897" y="61" width="2" height="1" fill="#000"/>
<rect x="16" y="74" width="2" height="1" fill="#000"/>
<rect x="897" y="74" width="2" height="1" fill="#000"/>
<rect x="16" y="81" width="2" height="1" fill="#000"/>
<rect x="897" y="81" width="2" height="1" fill="#000"/>
<rect x="16" y="88" width="2" height="1" fill="#000"/>
<rect x="897" y="88" width="2" height="1" fill="#000"/>
<rect x="16" y="95" width="2" height="1" fill="#000"/>
<rect x="897" y="95" width="2" height="1" fill="#000"/>
<rect x="16" y="101" width="2" height="1" fill="#000"/>
<rect x="897" y="101" width="2" height="1" fill="#000"/>
<rect x="16" y="108" width="2" height="1" fill="#000"/>
<rect x="897" y="108" width="2" height="1" fill="#000"/>
<rect x="16" y="115" width="2" height="1" fill="#000"/>
<rect x="897" y="115" width="2" height="1" fill="#000"/>
<rect x="16" y="122" width="2" height="1" fill="#000"/>
<rect x="897" y="122" width="2" height="1" fill="#000"/>
<rect x="16" y="129" width="2" height="1" fill="#000"/>
<rect x="897" y="129" width="2" height="1" fill="#000"/>
<rect x="16" y="143" width="2" height="1" fill="#000"/>
<rect x="897" y="143" width="2" height="1" fill="#000"/>
<rect x="16" y="150" width="2" height="1" fill="#000"/>
<rect x="897" y="150" width="2" height="1" fill="#000"/>
<rect x="16" y="157" width="2" height="1" fill="#000"/>
<rect x="897" y="157" width="2" height="1" fill="#000"/>
<rect x="16" y="164" width="2" height="1" fill="#000"/>
<rect x="897" y="164" width="2" height="1" fill="#000"/>
<rect x="16" y="170" width="2" height="1" fill="#000"/>
<rect x="897" y="170" width="2" height="1" fill="#000"/>
<rect x="16" y="177" width="2" height="1" fill="#000"/>
<rect x="897" y="177" width="2" height="1" fill="#000"/>
<rect x="16" y="184" width="2" height="1" fill="#000"/>
<rect x="897" y="184" width="2" height="1" fill="#000"/>
<rect x="16" y="191" width="2" height="1" fill="#000"/>
<rect x="897" y="191" width="2" height="1" fill="#000"/>
<rect x="16" y="198" width="2" height="1" fill="#000"/>
<rect x="897" y="198" width="2" height="1" fill="#000"/>
<rect x="16" y="211" width="2" height="1" fill="#000"/>
<rect x="897" y="211" width="2" height="1" fill="#000"/>
<rect x="16" y="218" width="2" height="1" fill="#000"/>
<rect x="897" y="218" width="2" height="1" fill="#000"/>
<rect x="16" y="225" width="2" height="1" fill="#000"/>
<rect x="897" y="225" width="2" height="1" fill="#000"/>
<rect x="16" y="232" width="2" height="1" fill="#000"/>
<rect x="897" y="232" width="2" height="1" fill="#000"/>
<rect x="16" y="238" width="2" height="1" fill="#000"/>
<rect x="897" y="238" width="2" height="1" fill="#000"/>
<rect x="16" y="245" width="2" height="1" fill="#000"/>
<rect x="897" y="245" width="2" height="1" fill="#000"/>
<rect x="16" y="252" width="2" height="1" fill="#000"/>
<rect x="897" y="252" width="2" height="1" fill="#000"/>
<rect x="16" y="259" width="2" height="1" fill="#000"/>
<rect x="897" y="259" width="2" height="1" fill="#000"/>
<rect x="16" y="266" width="2" height="1" fill="#000"/>
<rect x="897" y="266" width="2" height="1" fill="#000"/>
<rect x="16" y="280" width="2" height="1" fill="#000"/>
<rect x="897" y="280" width="2" height="1" fill="#000"/>
<rect x="16" y="287" width="2" height="1" fill="#000"/>
<rect x="897" y="287" width="2" height="1" fill="#000"/>
<rect x="16" y="294" width="2" height="1" fill="#000"/>
<rect x="897" y="294" width="2" height="1" fill="#000"/>
<rect x="16" y="301" width="2" height="1" fill="#000"/>
<rect x="897" y="301" width="2" height="1" fill="#000"/>
<rect x="16" y="307" width="2" height="1" fill="#000"/>
<rect x="897" y="307" width="2" height="1" fill="#000"/>
<rect x="16" y="314" width="2" height="1" fill="#000"/>
<rect x="897" y="314" width="2" height="1" fill="#000"/>
<rect x="16" y="321" width="2" height="1" fill="#000"/>
<rect x="897" y="321" width="2" height="1" fill="#000"/>
<rect x="16" y="328" width="2" height="1" fill="#000"/>
<rect x="897" y="328" width="2" height="1" fill="#000"/>
<rect x="16" y="335" width="2" height="1" fill="#000"/>
<rect x="897" y="335" width="2" height="1" fill="#000"/>
<rect x="16" y="348" width="2" height="1" fill="#000"/>
<rect x="897" y="348" width="2" height="1" fill="#000"/>
<rect x="16" y="355" width="2" height="1" fill="#000"/>
<rect x="897" y="355" width="2" height="1" fill="#000"/>
<rect x="16" y="362" width="2" height="1" fill="#000"/>
<rect x="897" y="362" width="2" height="1" fill="#000"/>
<rect x="16" y="369" width="2" height="1" fill="#000"/>
<rect x="897" y="369" width="2" height="1" fill="#000"/>
<rect x="16" y="375" width="2" height="1" fill="#000"/>
<rect x="897" y="375" width="2" height="1" fill="#000"/>
<rect x="16" y="382" width="2" height="1" fill="#000"/>
<rect x="897" y="382" width="2" height="1" fill="#000"/>
<rect x="16" y="389" width="2" height="1" fill="#000"/>
<rect x="897" y="389" width="2" height="1" fill="#000"/>
<rect x="16" y="396" width="2" height="1" fill="#000"/>
<rect x="897" y="396" width="2" height="1" fill="#000"/>
<rect x="16" y="403" width="2" height="1" fill="#000"/>
<rect x="897" y="403" width="2" height="1" fill="#000"/>
<rect x="16" y="417" width="2" height="1" fill="#000"/>
<rect x="897" y="417" width="2" height="1" fill="#000"/>
<rect x="16" y="424" width="2" height="1" fill="#000"/>
<rect x="897" y="424" width="2" height="1" fill="#000"/>
<rect x="16" y="431" width="2" height="1" fill="#000"/>
<rect x="897" y="431" width="2" height="1" fill="#000"/>
<rect x="16" y="438" width="2" height="1" fill="#000"/>
<rect x="897" y="438" width="2" height="1" fill="#000"/>
<rect x="16" y="444" width="2" height="1" fill="#000"/>
<rect x="897" y="444" width="2" height="1" fill="#000"/>
<rect x="16" y="451" width="2" height="1" fill="#000"/>
<rect x="897" y="451" width="2" height="1" fill="#000"/>
<rect x="16" y="458" width="2" height="1" fill="#000"/>
<rect x="897" y="458" width="2" height="1" fill="#000"/>
<rect x="16" y="465" width="2" height="1" fill="#000"/>
<rect x="897" y="465" width="2" height="1" fill="#000"/>
<rect x="16" y="472" width="2" height="1" fill="#000"/>
<rect x="897" y="472" width="2" height="1" fill="#000"/>
<rect x="16" y="485" width="2" height="1" fill="#000"/>
<rect x="897" y="485" width="2" height="1" fill="#000"/>
<rect x="16" y="492" width="2" height="1" fill="#000"/>
<rect x="897" y="492" width="2" height="1" fill="#000"/>
<rect x="16" y="499" width="2" height="1" fill="#000"/>
<rect x="897" y="499" width="2" height="1" fill="#000"/>
<rect x="16" y="506" width="2" height="1" fill="#000"/>
<rect x="897" y="506" width="2" height="1" fill="#000"/>
<rect x="16" y="512" width="2" height="1" fill="#000"/>
<rect x="897" y="512" width="2" height="1" fill="#000"/>
<rect x="16" y="519" width="2" height="1" fill="#000"/>
<rect x="897" y="519" width="2" height="1" fill="#000"/>
<rect x="16" y="68" width="2" height="1" fill="#000"/>
<rect x="897" y="68" width="2" height="1" fill="#000"/>
<rect x="16" y="137" width="2" height="1" fill="#000"/>
<rect x="897" y="137" width="2" height="1" fill="#000"/>
<rect x="16" y="205" width="2" height="1" fill="#000"/>
<rect x="897" y="205" width="2" height="1" fill="#000"/>
<rect x="16" y="274" width="2" height="1" fill="#000"/>
<rect x="897" y="274" width="2" height="1" fill="#000"/>
<rect x="16" y="342" width="2" height="1" fill="#000"/>
<rect x="897" y="342" width="2" height="1" fill="#000"/>
<rect x="16" y="411" width="2" height="1" fill="#000"/>
<rect x="897" y="411" width="2" height="1" fill="#000"/>
<rect x="16" y="479" width="2" height="1" fill="#000"/>
<rect x="897" y="479" width="2" height="1" fill="#000"/>
<rect x="84" y="526" width="1" height="2" fill="#000"/>
<rect x="161" y="526" width="1" height="2" fill="#000"/>
<rect x="231" y="526" width="1" height="2" fill="#000"/>
<rect x="298" y="526" width="1" height="2" fill="#000"/>
<rect x="375" y="526" width="1" height="2" fill="#000"/>
<rect x="449" y="526" width="1" height="2" fill="#000"/>
<rect x="519" y="526" width="1" height="2" fill="#000"/>
<rect x="593" y="526" width="1" height="2" fill="#000"/>
<rect x="670" y="526" width="1" height="2" fill="#000"/>
<rect x="740" y="526" width="1" height="2" fill="#000"/>
<rect x="814" y="526" width="1" height="2" fill="#000"/>
<rect x="884" y="526" width="1" height="2" fill="#000"/>
</svg>
<div class="t" id="bgd" style="left:19px;top:28px;width:37px;height:18px;background:#fff;"></div>
<div class="t f15" id="t1" style="left:18px;top:0.5px;letter-spacing:-0.27px;">Indonesia Jakarta Comp Index (JCI) 3625.49 <span style="color:#c00000;margin-left:-1.2px">-19.66</span></div>
<div class="t f15" id="t2" style="left:657.5px;top:0.5px;letter-spacing:0.0px;">www.fullermoney.com</div>
<div class="t f15" id="t3" style="right:85px;top:0.5px;letter-spacing:-0.5px;">2 Nov 2010</div>
<div class="t f14" id="t4" style="left:22px;top:28px;color:#0000c8;letter-spacing:0.2px;">Daily</div>
<div class="t f14 yl" style="left:900.2px;top:62px;letter-spacing:0.4px;">3600</div>
<div class="t f14 yl" style="left:900.2px;top:131px;letter-spacing:0.4px;">3400</div>
<div class="t f14 yl" style="left:900.2px;top:199px;letter-spacing:0.4px;">3200</div>
<div class="t f14 yl" style="left:900.2px;top:268px;letter-spacing:0.4px;">3000</div>
<div class="t f14 yl" style="left:900.2px;top:336px;letter-spacing:0.4px;">2800</div>
<div class="t f14 yl" style="left:900.2px;top:405px;letter-spacing:0.4px;">2600</div>
<div class="t f14 yl" style="left:900.2px;top:473px;letter-spacing:0.4px;">2400</div>
<div class="t f14 ml" style="left:84.3px;top:528px;letter-spacing:0.4px;">Dec</div>
<div class="t f14 ml" style="left:162.7px;top:528px;letter-spacing:0.0px;">2010</div>
<div class="t f14 ml" style="left:231.3px;top:528px;letter-spacing:0.4px;">Feb</div>
<div class="t f14 ml" style="left:298.3px;top:528px;letter-spacing:0.4px;">Mar</div>
<div class="t f14 ml" style="left:375.3px;top:528px;letter-spacing:0.4px;">Apr</div>
<div class="t f14 ml" style="left:449.3px;top:528px;letter-spacing:0.4px;">May</div>
<div class="t f14 ml" style="left:519.3px;top:528px;letter-spacing:0.4px;">Jun</div>
<div class="t f14 ml" style="left:593.3px;top:528px;letter-spacing:0.4px;">Jul</div>
<div class="t f14 ml" style="left:670.3px;top:528px;letter-spacing:0.4px;">Aug</div>
<div class="t f14 ml" style="left:740.3px;top:528px;letter-spacing:0.4px;">Sep</div>
<div class="t f14 ml" style="left:814.3px;top:528px;letter-spacing:0.4px;">Oct</div>
<div class="t f14 ml" style="left:884.3px;top:528px;letter-spacing:0.4px;">Nov</div>
<div class="t" id="cp" style="left:760px;top:546.5px;font-size:9.4px;color:#7c7c7c;letter-spacing:0.06px;">© 2010 Stockcube Research Ltd</div>
</body></html>
